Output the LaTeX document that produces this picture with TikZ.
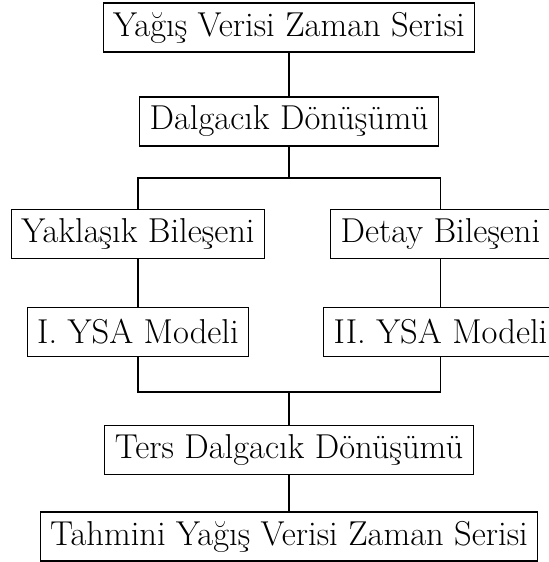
\documentclass[tikz,border=0pt]{standalone}
\usepackage{fontspec}
\usepackage{tikz}
\usetikzlibrary{arrows}

\begin{document}
\begin{tikzpicture}[x=0.5pt,y=-0.5pt,semithick,
box/.style={draw,font=\LARGE,inner xsep=5pt,minimum height=24.5pt}]
\useasboundingbox (0,0) rectangle (549,562);
\node[box] (veri) at (289,27.5) {Yağış Verisi Zaman Serisi};
\node[box] (dd) at (289,121.5) {Dalgacık Dönüşümü};
\node[box] (yak) at (138,234) {Yaklaşık Bileşeni};
\node[box] (det) at (440.5,234) {Detay Bileşeni};
\node[box] (ysa1) at (138,332) {I. YSA Modeli};
\node[box] (ysa2) at (440.5,332) {II. YSA Modeli};
\node[box] (tdd) at (289,450) {Ters Dalgacık Dönüşümü};
\node[box] (tah) at (289,536.5) {Tahmini Yağış Verisi Zaman Serisi};
\coordinate (F) at (289,178);
\coordinate (G) at (289,392);
\draw (veri)--(dd)(dd)--(F)(F)-|(yak)(F)-|(det)
(yak)--(ysa1)(det)--(ysa2)(ysa1)|-(G)(ysa2)|-(G)(G)--(tdd)(tdd)--(tah);
\end{tikzpicture}
\end{document}
